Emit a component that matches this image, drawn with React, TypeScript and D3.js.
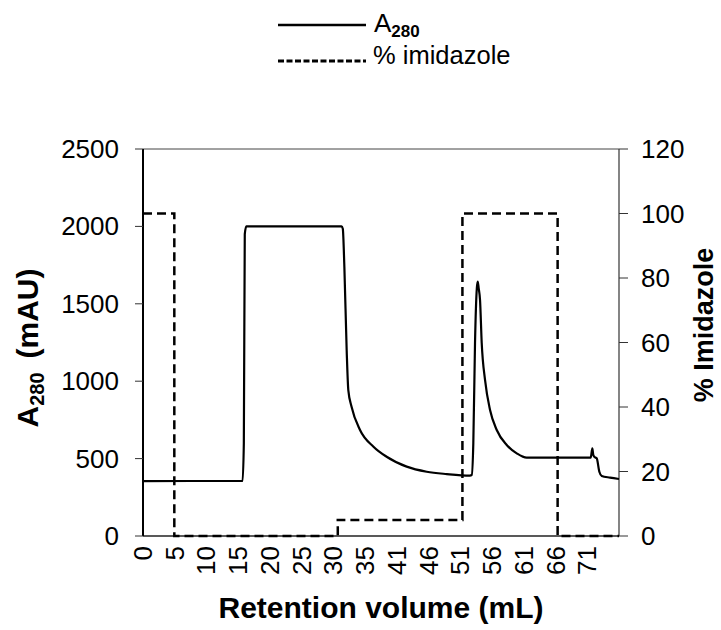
import React from "react";
import * as d3 from "d3";

// A280 trace (retention volume mL, mAU)
const a280Volume = [0, 15.9, 16.1, 16.25, 16.5, 31.7, 31.9, 32.15, 32.52, 32.78, 33.3, 34.65, 36.8, 38.9, 42.1, 45.3, 48.5, 52.2, 52.48, 52.74, 53.01, 53.3, 53.44, 53.6, 53.81, 54.08, 54.61, 55.41, 56.48, 58.07, 59.67, 61.26, 71.48, 71.74, 71.9, 72.1, 72.44, 72.86, 73.24, 74.57, 76];
const a280Values = [355, 356, 600, 1950, 2000, 2000, 1985, 1740, 1200, 943, 835, 685, 577, 512, 448, 415, 400, 390, 394, 600, 1247, 1600, 1643, 1600, 1525, 1247, 1008, 814, 685, 588, 534, 506, 506, 566, 523, 510, 502, 415, 388, 377, 368];

// % imidazole steps (step-after)
const imidVolume = [0, 5.0, 31.1, 51.0, 66.2, 76];
const imidValues = [100, 0, 5, 100, 0, 0];

// Category-axis tick labels
const xTickLabels = ["0", "5", "10", "15", "20", "25", "30", "35", "41", "46", "51", "56", "61", "66", "71"];
const xMax = 76;
const leftTicks = [0, 500, 1000, 1500, 2000, 2500];
const rightTicks = [0, 20, 40, 60, 80, 100, 120];

const FONT = "'Liberation Sans', Arial, Helvetica, sans-serif";

export default function App() {
  const left = 143, right = 619, top = 149, bottom = 536;
  const x = d3.scaleLinear().domain([0, xMax]).range([left, right]);
  const yL = d3.scaleLinear().domain([0, 2500]).range([bottom, top]);
  const yR = d3.scaleLinear().domain([0, 120]).range([bottom, top]);

  const a280 = a280Volume.map((v, i) => [v, a280Values[i]] as [number, number]);
  const imid = imidVolume.map((v, i) => [v, imidValues[i]] as [number, number]);

  const lineA = d3.line<[number, number]>().x(d => x(d[0])).y(d => yL(d[1])).curve(d3.curveMonotoneX);
  const lineI = d3.line<[number, number]>().x(d => x(d[0])).y(d => yR(d[1])).curve(d3.curveStepAfter);

  const step = xMax / 15;

  return (
    <svg width={721} height={630} style={{ position: "absolute", left: 0, top: 0, background: "#fff" }} fontFamily={FONT}>
      <rect x={0} y={0} width={721} height={630} fill="#fff" />
      {/* Legend */}
      <line x1={278} x2={366} y1={25} y2={25} stroke="#000" strokeWidth={2.5} />
      <text x={374} y={32} fontSize={26} fill="#000">A<tspan fontSize={17} fontWeight="bold" dy={5}>280</tspan></text>
      <line x1={278} x2={366} y1={61} y2={61} stroke="#000" strokeWidth={3} strokeDasharray="6,2.5" />
      <text x={373} y={64} fontSize={25.5} fill="#000">% imidazole</text>

      {/* Frame */}
      <line x1={left} x2={right} y1={top} y2={top} stroke="#444" strokeWidth={1} />
      <line x1={right} x2={right} y1={top} y2={bottom} stroke="#333" strokeWidth={1.2} />
      <line x1={left} x2={right} y1={bottom} y2={bottom} stroke="#222" strokeWidth={1.5} />
      <line x1={left} x2={left} y1={top} y2={bottom} stroke="#000" strokeWidth={2} />

      {/* Left axis */}
      {leftTicks.map(t => (
        <g key={"l" + t}>
          <line x1={left - 8} x2={left} y1={yL(t)} y2={yL(t)} stroke="#333" strokeWidth={1} />
          <text x={119} y={yL(t)} fontSize={26} textAnchor="end" dominantBaseline="central" fill="#000">{t}</text>
        </g>
      ))}
      {/* Right axis */}
      {rightTicks.map(t => (
        <g key={"r" + t}>
          <line x1={right} x2={right + 9} y1={yR(t)} y2={yR(t)} stroke="#333" strokeWidth={1} />
          <text x={641} y={yR(t)} fontSize={26} textAnchor="start" dominantBaseline="central" fill="#000">{t}</text>
        </g>
      ))}
      {/* X tick labels */}
      {xTickLabels.map((lab, i) => {
        const px = x(i * step);
        return (
          <text key={"x" + i} transform={`translate(${px},546) rotate(-90)`} fontSize={26} textAnchor="end" dominantBaseline="central" fill="#000">{lab}</text>
        );
      })}

      {/* Series */}
      <path d={lineI(imid) || ""} fill="none" stroke="#000" strokeWidth={2.5} strokeDasharray="9,5" />
      <path d={lineA(a280) || ""} fill="none" stroke="#000" strokeWidth={2.2} strokeLinejoin="round" />

      {/* Axis titles */}
      <text x={381} y={618} fontSize={30} fontWeight="bold" textAnchor="middle" fill="#000">Retention volume (mL)</text>
      <text transform="translate(38,348) rotate(-90)" fontSize={30} fontWeight="bold" textAnchor="middle" fill="#000">
        A<tspan fontSize={20} dy={6}>280</tspan><tspan dy={-6} dx={14}>(mAU)</tspan>
      </text>
      <text transform="translate(704,325) rotate(-90)" fontSize={27} fontWeight="bold" textAnchor="middle" dominantBaseline="central" fill="#000">% Imidazole</text>
    </svg>
  );
}
